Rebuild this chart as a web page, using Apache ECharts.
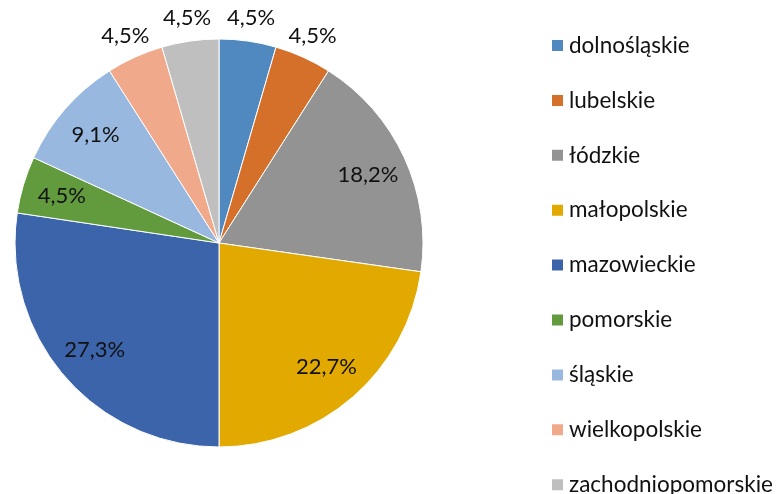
<!DOCTYPE html>
<html>
<head>
<meta charset="utf-8">
<script src="https://cdn.jsdelivr.net/npm/echarts@6/dist/echarts.min.js"></script>
<style>html,body{margin:0;padding:0;background:#fff}#c{width:780px;height:494px}</style>
</head>
<body>
<div id="c"></div>
<script>
const categories = ['dolnośląskie','lubelskie','łódzkie','małopolskie','mazowieckie','pomorskie','śląskie','wielkopolskie','zachodniopomorskie'];
const shares = [4.5, 4.5, 18.2, 22.7, 27.3, 4.5, 9.1, 4.5, 4.5];
const colors = ['#4F89BF','#D5702B','#939393','#E2AA00','#3C64AB','#629A3E','#99B8DF','#F1A98B','#BFBFBF'];
const outsideLabels = ['dolnośląskie','lubelskie','wielkopolskie','zachodniopomorskie'];

const FONT = 'Lato';
const fmt = p => String(p.value.toFixed(1)).replace('.', ',') + '%';
const labelStyle = {fontFamily: FONT, fontSize: 22, color: '#111'};

const baseData = categories.map((n, i) => ({name: n, value: shares[i], itemStyle: {color: colors[i]}}));
const innerData = categories.map((n, i) => ({name: n, value: shares[i], label: {show: !outsideLabels.includes(n)}}));
const outerData = categories.map((n, i) => ({name: n, value: shares[i], label: {show: outsideLabels.includes(n)}}));

const common = {type: 'pie', center: [219, 243], startAngle: 90, clockwise: true, animation: false, avoidLabelOverlap: false};

const chart = echarts.init(document.getElementById('c'), null, {renderer: 'canvas'});
chart.setOption({
  backgroundColor: '#fff',
  legend: {
    orient: 'vertical', left: 550, top: 34, height: 520, width: 230, padding: 0,
    data: categories, icon: 'rect', itemWidth: 13, itemHeight: 13, itemGap: 31.9,
    textStyle: {fontFamily: FONT, fontSize: 22.5, color: '#111', lineHeight: 22},
    selectedMode: false
  },
  series: [
    Object.assign({}, common, {
      name: 'base', radius: [0, 204], data: baseData,
      label: {show: false}, labelLine: {show: false},
      itemStyle: {borderColor: '#fff', borderWidth: 1}
    }),
    Object.assign({}, common, {
      name: 'inner', radius: [118, 204], data: innerData, silent: true,
      itemStyle: {color: 'rgba(0,0,0,0)'},
      label: Object.assign({position: 'inside', formatter: fmt}, labelStyle), labelLine: {show: false}
    }),
    Object.assign({}, common, {
      name: 'outer', radius: [202, 246], data: outerData, silent: true,
      itemStyle: {color: 'rgba(0,0,0,0)'},
      label: Object.assign({position: 'inside', formatter: fmt}, labelStyle), labelLine: {show: false}
    })
  ]
});
</script>
</body>
</html>
